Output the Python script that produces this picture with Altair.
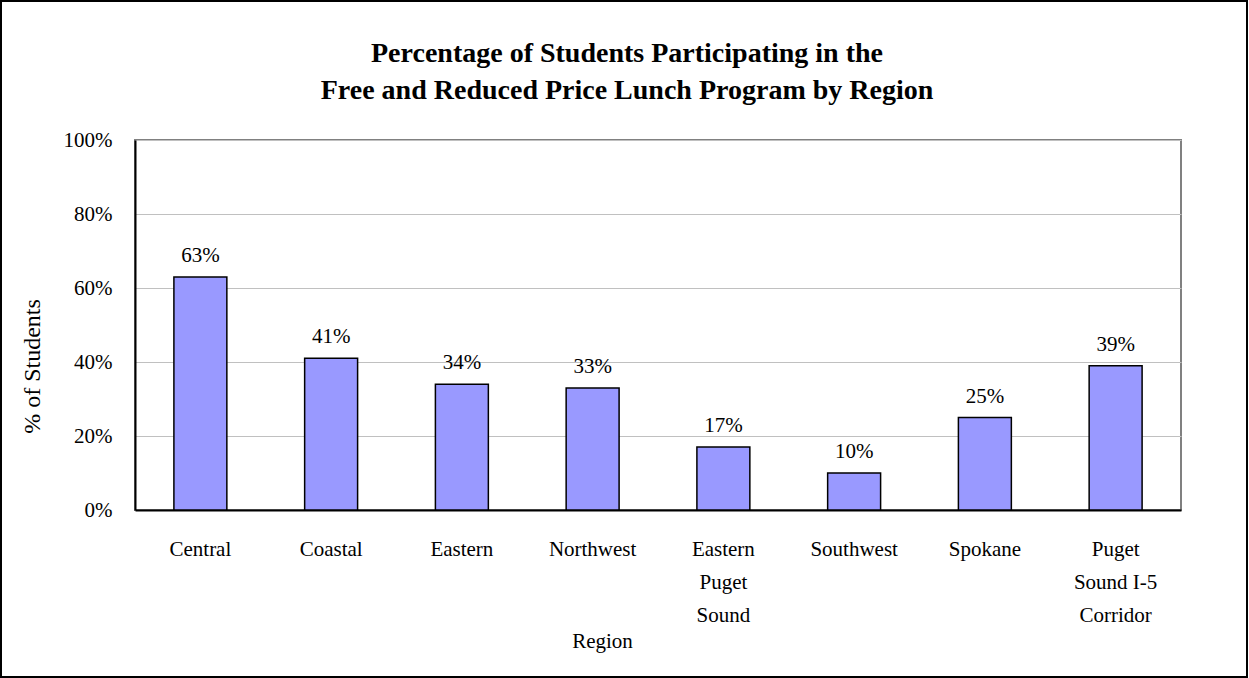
import altair as alt
import pandas as pd

# Regions (line breaks mark where the axis labels wrap) and participation shares
regions = [
    "Central",
    "Coastal",
    "Eastern",
    "Northwest",
    "Eastern\nPuget\nSound",
    "Southwest",
    "Spokane",
    "Puget\nSound I-5\nCorridor",
]
shares = [0.63, 0.41, 0.34, 0.33, 0.17, 0.10, 0.25, 0.39]
y_ticks = [0, 0.2, 0.4, 0.6, 0.8, 1.0]
title_lines = [
    "Percentage of Students Participating in the",
    "Free and Reduced Price Lunch Program by Region",
]

df = pd.DataFrame({"region": regions, "share": shares})
single = pd.DataFrame({"k": [0]})

FONT = "Liberation Serif"
W, H = 1046, 370
LEFT, TOP = 135, 140

x_enc = alt.X(
    "region:N",
    sort=regions,
    scale=alt.Scale(paddingInner=0.595, paddingOuter=0.2975),
    axis=alt.Axis(
        title="Region",
        labelAngle=0,
        labelExpr="split(datum.value, '\\n')",
        labelLineHeight=33,
        labelPadding=28,
        labelBaseline="top",
        ticks=False,
        domainColor="black",
        domainWidth=2,
        titleX=467,
        titleY=131,
        titleBaseline="middle",
        titleFontWeight="normal",
    ),
)
y_enc = alt.Y(
    "share:Q",
    scale=alt.Scale(domain=[0, 1]),
    axis=alt.Axis(
        title="% of Students",
        values=y_ticks,
        format=".0%",
        ticks=False,
        labelPadding=23,
        domainColor="black",
        domainWidth=2,
        gridColor="#c0c0c0",
        gridWidth=1,
        titleX=-103,
        titleY=226,
        titleAngle=-90,
        titleAlign="center",
        titleBaseline="middle",
        titleFontWeight="normal",
        titleFontSize=24,
    ),
)

bars = alt.Chart(df).mark_bar(
    color="#9999ff", stroke="black", strokeWidth=1.5
).encode(x=x_enc, y=y_enc)

labels = alt.Chart(df).mark_text(
    font=FONT, fontSize=21, baseline="alphabetic", dy=-15, color="black"
).encode(
    x=alt.X("region:N", sort=regions),
    y="share:Q",
    text=alt.Text("share:Q", format=".0%"),
)

# Two-line bold heading, centred over the figure (one datum per line)
heading = [
    alt.Chart(single).mark_text(
        font=FONT, fontSize=28, fontWeight="bold", baseline="alphabetic",
        align="center", color="black", clip=False,
    ).encode(
        x=alt.value(627 - LEFT),
        y=alt.value(base - TOP),
        text=alt.value(line),
    )
    for line, base in zip(title_lines, [62, 99])
]

# Thin frame around the whole figure
frame = alt.Chart(single).mark_rect(
    filled=False, stroke="black", strokeWidth=2, clip=False
).encode(
    x=alt.value(1 - LEFT),
    x2=alt.value(1247 - LEFT),
    y=alt.value(1 - TOP),
    y2=alt.value(677 - TOP),
)

chart = (
    alt.layer(bars, labels, *heading, frame)
    .properties(
        width=W,
        height=H,
        autosize=alt.AutoSizeParams(type="none"),
        padding={"left": LEFT, "top": TOP, "right": 1249 - LEFT - W,
                 "bottom": 678 - TOP - H},
    )
    .configure(background="white")
    .configure_view(stroke="#808080", strokeWidth=2)
    .configure_axis(
        labelFont=FONT,
        titleFont=FONT,
        labelFontSize=21,
        titleFontSize=21,
        labelColor="black",
        titleColor="black",
    )
)

chart.save("out.html", embed_options={"renderer": "svg", "actions": False})
